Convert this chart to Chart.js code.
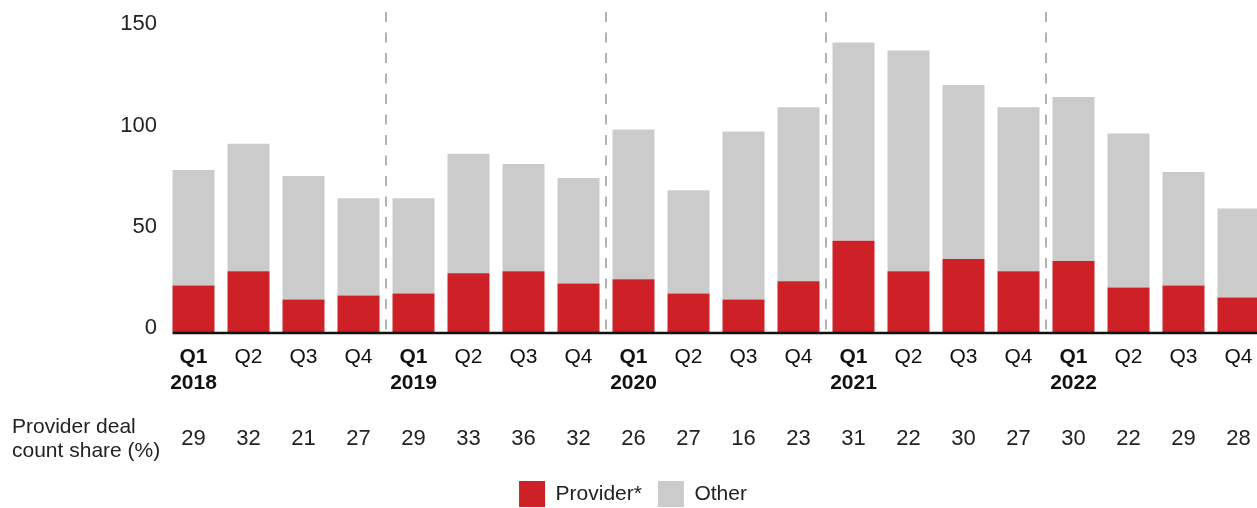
<!DOCTYPE html>
<html>
<head>
<meta charset="utf-8">
<script src="https://cdn.jsdelivr.net/npm/chart.js@4"></script>
<style>
  html, body { margin: 0; padding: 0; background: #fff; overflow: hidden; }
  canvas { display: block; }
</style>
</head>
<body>
<canvas id="dealChart" width="1266" height="508"></canvas>
<script>
var quarters = ['Q1', 'Q2', 'Q3', 'Q4', 'Q1', 'Q2', 'Q3', 'Q4', 'Q1', 'Q2', 'Q3', 'Q4', 'Q1', 'Q2', 'Q3', 'Q4', 'Q1', 'Q2', 'Q3', 'Q4'];
var years = ['2018', '2019', '2020', '2021', '2022'];
var providerDeals = [23, 30, 16, 18, 19, 29, 30, 24, 26, 19, 16, 25, 45, 30, 36, 30, 35, 22, 23, 17];
var otherDeals = [57, 63, 61, 48, 47, 59, 53, 52, 74, 51, 83, 86, 98, 109, 86, 81, 81, 76, 56, 44];
var shareLabels = ['29', '32', '21', '27', '29', '33', '36', '32', '26', '27', '16', '23', '31', '22', '30', '27', '30', '22', '29', '28'];
var yTicks = [0, 50, 100, 150];

var labels = quarters.map(function (q, i) {
  return i % 4 === 0 ? [q, years[i / 4]] : q;
});

var fontFamily = '"Liberation Sans", Arial, Helvetica, sans-serif';

// dashed year separators, baseline and the share row under the axis
var extrasPlugin = {
  id: 'extras',
  beforeDatasetsDraw: function (chart) {
    var ctx = chart.ctx;
    var x = chart.scales.x;
    var area = chart.chartArea;
    ctx.save();
    ctx.strokeStyle = '#9b9b9b';
    ctx.lineWidth = 1.5;
    ctx.setLineDash([10, 10.5]);
    for (var i = 4; i < quarters.length; i += 4) {
      var px = Math.round((x.getPixelForValue(i - 1) + x.getPixelForValue(i)) / 2);
      ctx.beginPath();
      ctx.moveTo(px, area.top);
      ctx.lineTo(px, area.bottom);
      ctx.stroke();
    }
    ctx.restore();
  },
  afterDatasetsDraw: function (chart) {
    var ctx = chart.ctx;
    var x = chart.scales.x;
    var y = chart.scales.y;
    var bar = chart.getDatasetMeta(0).data[0];
    ctx.save();
    ctx.strokeStyle = '#111';
    ctx.lineWidth = 2.5;
    ctx.beginPath();
    ctx.moveTo(bar.x - bar.width / 2, y.getPixelForValue(0) + 1);
    ctx.lineTo(chart.width, y.getPixelForValue(0) + 1);
    ctx.stroke();

    ctx.fillStyle = '#222';
    ctx.font = '21px ' + fontFamily;
    ctx.textBaseline = 'middle';
    ctx.textAlign = 'left';
    ctx.fillText('Provider deal', 12, 427);
    ctx.fillText('count share (%)', 12, 451);
    ctx.font = '22px ' + fontFamily;
    ctx.textAlign = 'center';
    for (var i = 0; i < shareLabels.length; i++) {
      ctx.fillText(shareLabels[i], x.getPixelForValue(i), 439);
    }
    ctx.restore();
  }
};

var ctx = document.getElementById('dealChart').getContext('2d');
var chart = new Chart(ctx, {
  type: 'bar',
  data: {
    labels: labels,
    datasets: [{
      label: 'Provider*',
      data: providerDeals,
      backgroundColor: '#cd2027',
      borderWidth: 0
    }, {
      label: 'Other',
      data: otherDeals,
      backgroundColor: '#cbcbcb',
      borderWidth: 0
    }]
  },
  options: {
    responsive: false,
    animation: false,
    layout: { padding: { top: 12, left: 0, right: 0, bottom: -9 } },
    datasets: {
      bar: { barPercentage: 0.7636, categoryPercentage: 1 }
    },
    plugins: {
      tooltip: { enabled: false },
      legend: {
        position: 'bottom',
        labels: {
          boxWidth: 26,
          boxHeight: 26,
          padding: 16,
          color: '#222',
          font: { family: fontFamily, size: 21 }
        }
      }
    },
    scales: {
      x: {
        stacked: true,
        grid: { display: false, drawTicks: false },
        border: { display: false },
        ticks: {
          padding: 12,
          maxRotation: 0,
          autoSkip: false,
          color: '#111',
          font: function (c) {
            return {
              family: fontFamily,
              size: 21,
              lineHeight: 1.25,
              weight: c.index % 4 === 0 ? 'bold' : 'normal'
            };
          }
        },
        afterFit: function (scale) {
          scale.height = 508 + 9 - 332 - scale.chart.legend.height;
        }
      },
      y: {
        stacked: true,
        min: 0,
        max: 158,
        grid: { display: false, drawTicks: false },
        border: { display: false },
        afterBuildTicks: function (scale) {
          scale.ticks = yTicks.map(function (v) { return { value: v }; });
        },
        ticks: {
          padding: 9,
          labelOffset: -4,
          color: '#222',
          font: { family: fontFamily, size: 22 }
        },
        afterFit: function (scale) {
          scale.width = 166;
          scale.paddingTop = 0;
          scale.paddingBottom = 0;
        }
      }
    }
  },
  plugins: [extrasPlugin]
});
</script>
</body>
</html>
